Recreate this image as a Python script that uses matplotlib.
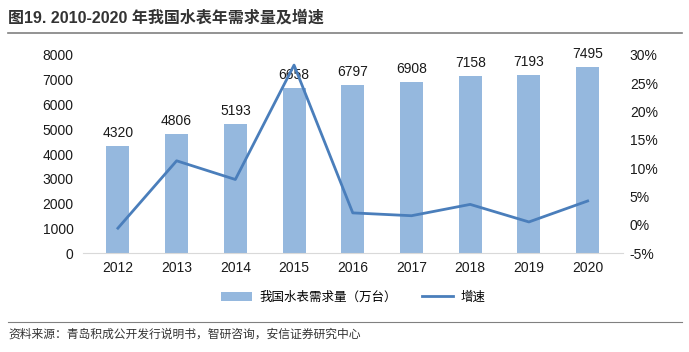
import matplotlib.pyplot as plt
from matplotlib.ticker import FuncFormatter

plt.rcParams['font.family'] = ['Liberation Sans', 'Noto Sans CJK SC', 'DejaVu Sans']

years = ["2012", "2013", "2014", "2015", "2016", "2017", "2018", "2019", "2020"]
demand = [4320, 4806, 5193, 6658, 6797, 6908, 7158, 7193, 7495]
growth = [-0.6, 11.3, 8.0, 28.2, 2.1, 1.6, 3.6, 0.5, 4.2]

bar_color = "#95B8DE"
line_color = "#4A7EBB"

fig = plt.figure(figsize=(6.89, 3.52), dpi=100)
ax = fig.add_axes([0.120, 0.281, 0.784, 0.563])
ax2 = ax.twinx()

x = list(range(len(years)))
bars = ax.bar(x, demand, width=0.39, color=bar_color, zorder=2, label="我国水表需求量（万台）")
for xi, v in zip(x, demand):
    ax.text(xi, v + 250, str(v), ha="center", va="bottom", fontsize=10, color="#1a1a1a")

ln, = ax2.plot(x, growth, color=line_color, lw=2, label="增速", zorder=3)

ax.set_ylim(0, 8000)
ax.set_yticks(range(0, 8001, 1000))
ax2.set_ylim(-5, 30)
ax2.set_yticks(range(-5, 31, 5))
ax2.yaxis.set_major_formatter(FuncFormatter(lambda v, p: f"{int(v)}%"))
ax.set_xlim(-0.6, 8.6)
ax.set_xticks(x)
ax.set_xticklabels(years)

for a in (ax, ax2):
    for s in ("top", "left", "right"):
        a.spines[s].set_visible(False)
    a.spines["bottom"].set_color("#d9d9d9")
    a.tick_params(length=0, labelsize=10, colors="#1a1a1a")
ax2.spines["bottom"].set_visible(False)
ax.tick_params(axis="y", pad=6.5)
ax.tick_params(axis="x", pad=6)
ax2.tick_params(axis="y", pad=5)

fig.legend(handles=[bars, ln], loc="center", bbox_to_anchor=(0.513, 0.156), ncol=2,
           frameon=False, handlelength=2.5, handletextpad=0.6, columnspacing=2.0,
           prop={'family': ['Noto Sans CJK SC'], 'size': 9})

fig.text(0.012, 0.935, "图19. 2010-2020 年我国水表年需求量及增速", fontsize=11.5,
         fontweight="bold", color="#333333", family=['Liberation Sans', 'Noto Sans CJK SC'])
fig.add_artist(plt.Line2D([0.012, 0.99], [0.905, 0.905], color="#808080", lw=1.2))
fig.add_artist(plt.Line2D([0.012, 0.99], [0.085, 0.085], color="#808080", lw=0.8))
fig.text(0.012, 0.052, "资料来源：青岛积成公开发行说明书，智研咨询，安信证券研究中心", fontsize=8.5,
         color="#333333", family=['Noto Sans CJK SC'], va="center", style="italic")

fig.savefig("out.png", dpi=100)
